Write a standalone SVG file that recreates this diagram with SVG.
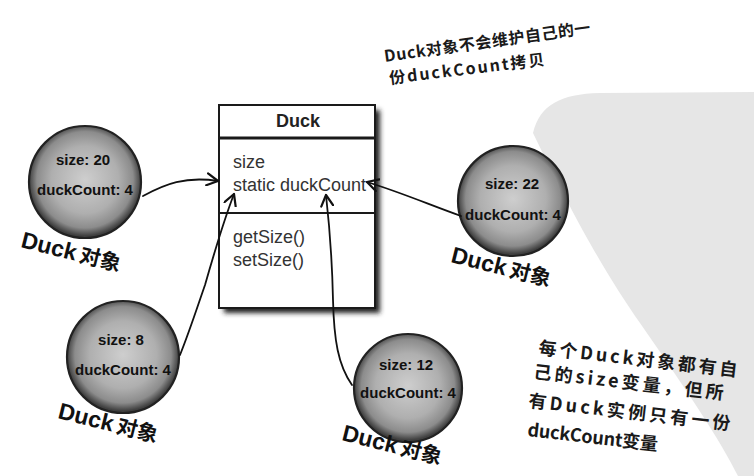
<svg xmlns="http://www.w3.org/2000/svg" width="754" height="476" viewBox="0 0 754 476">
<defs>
<radialGradient id="ball" cx="50%" cy="48%" r="50%">
<stop offset="0" stop-color="#cecece"/>
<stop offset="0.6" stop-color="#afafaf"/>
<stop offset="0.86" stop-color="#8c8c8c"/>
<stop offset="1" stop-color="#404040"/>
</radialGradient>
<filter id="blur" x="-20%" y="-20%" width="140%" height="140%"><feGaussianBlur stdDeviation="2.5"/></filter>
<marker id="arr" viewBox="0 0 14 14" refX="12" refY="7" markerWidth="14" markerHeight="14" markerUnits="userSpaceOnUse" orient="auto">
<path d="M1,1 L12,7 L1,13" fill="none" stroke="#111" stroke-width="2.2" stroke-linecap="round" stroke-linejoin="round"/>
</marker>
</defs>
<style>
.ball{fill:url(#ball);stroke:#222;stroke-width:2.2}
.bt{font-family:"Liberation Sans",Arial,sans-serif;font-weight:bold;font-size:15px;fill:#111;text-anchor:middle}
.lbl{font-family:"Liberation Sans","Noto Sans CJK SC",sans-serif;font-weight:bold;font-size:23px;fill:#111}
.lblc{font-family:"Noto Sans CJK SC",sans-serif;font-weight:bold;font-size:21px;fill:#111}
.cls{font-family:"Liberation Sans",Arial,sans-serif;font-size:18px;fill:#333}
.note{font-family:"Noto Sans CJK SC","Liberation Sans",sans-serif;font-weight:bold;fill:#1a1a1a}
.conn{fill:none;stroke:#111;stroke-width:1.8;stroke-linecap:round}
</style>
<rect x="0" y="0" width="754" height="476" fill="#ffffff"/>
<path d="M533,133 C540,105 560,94 600,93 L754,92 L754,476 L738,476 C720,440 690,395 640,323 C610,280 580,230 533,133 Z" fill="#e6e6e6"/>

<g id="duck-class">
<rect x="224" y="110" width="156" height="203" fill="#222" filter="url(#blur)"/>
<rect x="219" y="105" width="156" height="203" fill="#fff" stroke="#1a1a1a" stroke-width="2"/>
<line x1="219" y1="138" x2="375" y2="138" stroke="#1a1a1a" stroke-width="3"/>
<line x1="219" y1="213" x2="375" y2="213" stroke="#1a1a1a" stroke-width="2"/>
<text x="298" y="127" text-anchor="middle" font-family="Liberation Sans,Arial,sans-serif" font-weight="bold" font-size="18" fill="#222">Duck</text>
<text class="cls" x="233" y="168">size</text>
<text class="cls" x="233" y="191">static duckCount</text>
<text class="cls" x="233" y="243">getSize()</text>
<text class="cls" x="233" y="266">setSize()</text>
</g>

<g id="duck1">
<circle class="ball" cx="85" cy="182" r="56"/>
<text class="bt" x="83" y="165">size: 20</text>
<text class="bt" x="85" y="195">duckCount: 4</text>
<g transform="translate(20,247) rotate(14)"><text class="lbl" x="0" y="0">Duck</text><text class="lblc" x="60" y="0">对象</text></g>
</g>

<g id="duck2">
<circle class="ball" cx="513" cy="201" r="55"/>
<text class="bt" x="512" y="189">size: 22</text>
<text class="bt" x="513" y="220">duckCount: 4</text>
<g transform="translate(450,262) rotate(14)"><text class="lbl" x="0" y="0">Duck</text><text class="lblc" x="60" y="0">对象</text></g>
</g>

<g id="duck3">
<circle class="ball" cx="123" cy="357" r="56"/>
<text class="bt" x="121" y="345">size: 8</text>
<text class="bt" x="123" y="375">duckCount: 4</text>
<g transform="translate(57,418) rotate(14)"><text class="lbl" x="0" y="0">Duck</text><text class="lblc" x="60" y="0">对象</text></g>
</g>

<g id="duck4">
<circle class="ball" cx="408" cy="388" r="54"/>
<text class="bt" x="406" y="370">size: 12</text>
<text class="bt" x="408" y="398">duckCount: 4</text>
<g transform="translate(341,440) rotate(14)"><text class="lbl" x="0" y="0">Duck</text><text class="lblc" x="60" y="0">对象</text></g>
</g>

<g id="connectors">
<path class="conn" d="M143,196 C165,184 185,176 218,181" marker-end="url(#arr)"/>
<path class="conn" d="M180,355 C190,330 198,305 205,285 C215,250 224,220 234,194" marker-end="url(#arr)"/>
<path class="conn" d="M352,385 C338,365 334,340 333,300 C332,250 329,222 326,195" marker-end="url(#arr)"/>
<path class="conn" d="M461,216 C430,205 400,192 367,182" marker-end="url(#arr)"/>
</g>

<g id="note-top">
<text class="note" font-size="16" transform="translate(385,62) rotate(-8)" textLength="208" lengthAdjust="spacing">Duck对象不会维护自己的一</text>
<text class="note" font-size="16" transform="translate(390,84) rotate(-7)" textLength="156" lengthAdjust="spacing">份duckCount拷贝</text>
</g>

<g id="note-bottom">
<text class="note" font-size="18" transform="translate(538,354) rotate(6.5)" textLength="200" lengthAdjust="spacing">每个Duck对象都有自</text>
<text class="note" font-size="18" transform="translate(533,378) rotate(6.5)" textLength="191" lengthAdjust="spacing">己的size变量，但所</text>
<text class="note" font-size="18" transform="translate(528,407) rotate(6.5)" textLength="203" lengthAdjust="spacing">有Duck实例只有一份</text>
<text class="note" font-size="18" transform="translate(527,436) rotate(6.5)" textLength="131" lengthAdjust="spacing">duckCount变量</text>
</g>
</svg>
